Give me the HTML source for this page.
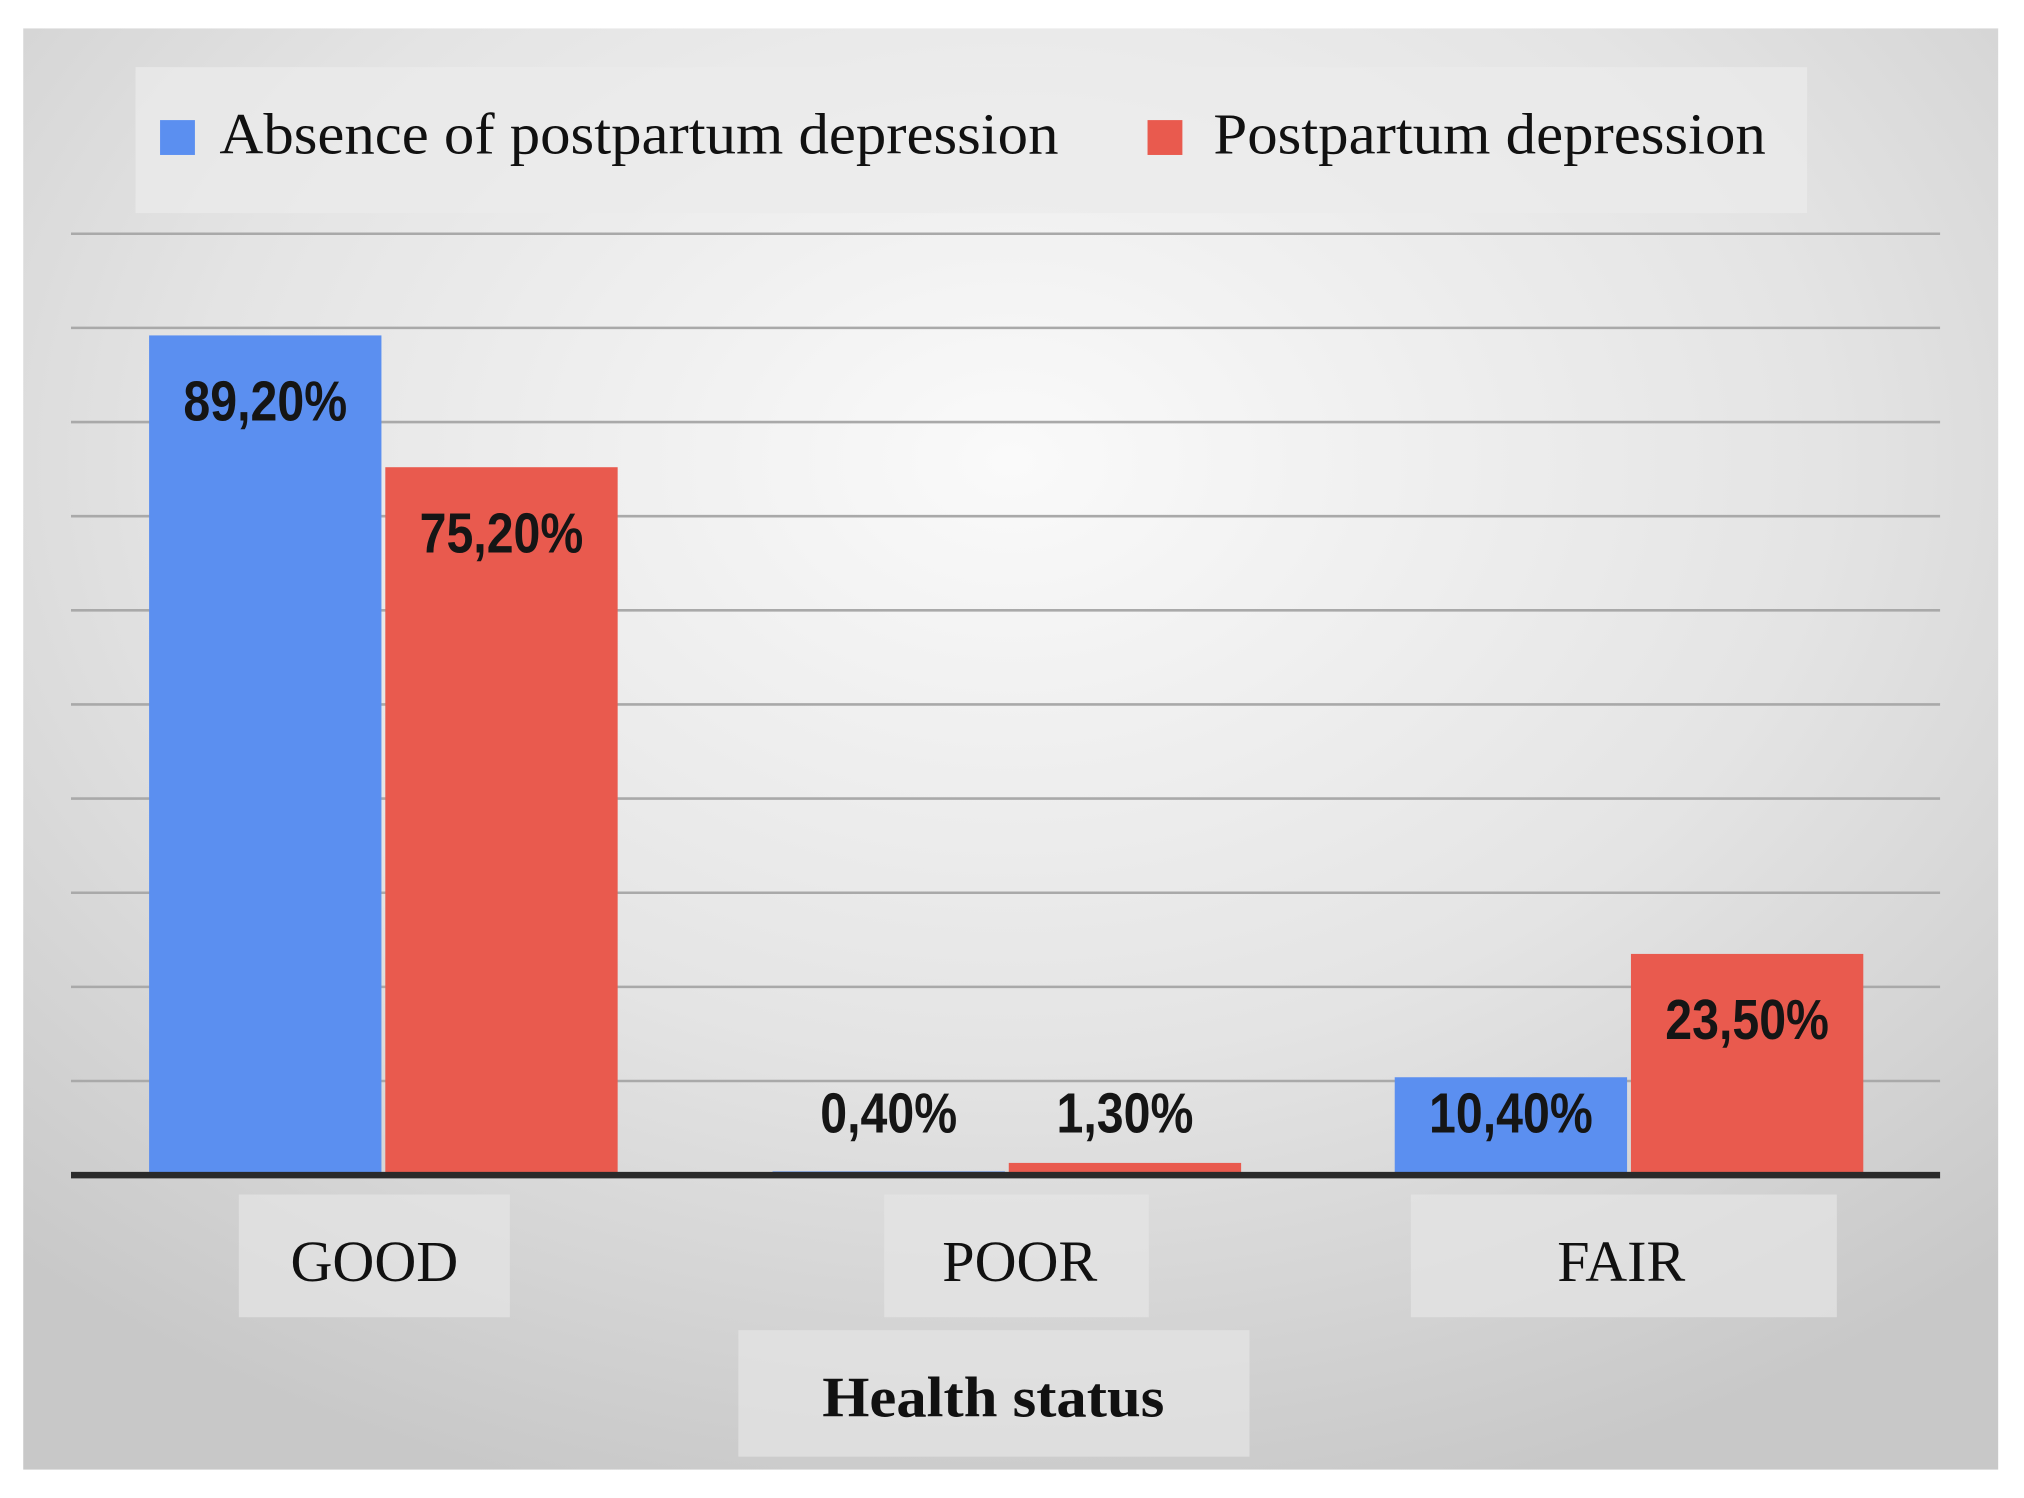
<!DOCTYPE html>
<html><head><meta charset="utf-8">
<style>
html,body{margin:0;padding:0;background:#fff;}
svg{display:block;}
</style></head>
<body>
<svg id="chart" width="2024" height="1498" viewBox="0 0 1568 1160" preserveAspectRatio="none" xmlns="http://www.w3.org/2000/svg">
<defs>
<radialGradient id="bg" cx="0.5" cy="0.3" r="0.75">
<stop offset="0" stop-color="#fafafa"/>
<stop offset="0.55" stop-color="#e4e4e4"/>
<stop offset="1" stop-color="#c8c8c8"/>
</radialGradient>
</defs>
<rect x="18" y="22" width="1530" height="1116" fill="url(#bg)"/>
<g>
<rect x="105" y="52" width="1295" height="113" fill="#ebebeb" opacity="0.75"/>
<rect x="124" y="93" width="27" height="27" fill="#5b8ff0"/>
<text x="170" y="119" font-family="Liberation Serif, serif" font-size="45" fill="#111" textLength="650" lengthAdjust="spacingAndGlyphs">Absence of postpartum depression</text>
<rect x="889" y="93" width="27" height="27" fill="#e95a4e"/>
<text x="940" y="119" font-family="Liberation Serif, serif" font-size="45" fill="#111" textLength="428" lengthAdjust="spacingAndGlyphs">Postpartum depression</text>
</g>
<g id="grid"></g>
<g id="bars"></g>
<line x1="55" y1="910" x2="1503" y2="910" stroke="#2a2a2a" stroke-width="5"/>
<g id="cats"></g>
<rect x="572" y="1030" width="396" height="98" fill="#e6e6e6" opacity="0.7"/>
<text x="637" y="1097" font-family="Liberation Serif, serif" font-weight="bold" font-size="44" fill="#111" textLength="265" lengthAdjust="spacingAndGlyphs">Health status</text>
</svg>
<script>
const categories = ["GOOD", "POOR", "FAIR"];
const absenceValues = [89.2, 0.4, 10.4];
const ppdValues = [75.2, 1.3, 23.5];
const absenceLabels = ["89,20%", "0,40%", "10,40%"];
const ppdLabels = ["75,20%", "1,30%", "23,50%"];
const gridTicks = [10, 20, 30, 40, 50, 60, 70, 80, 90, 100];

const NS = "http://www.w3.org/2000/svg";
const baseY = 910, pxPer = 7.29;
function yScale(v){ return baseY - v * pxPer; }
const catCenters = [295, 778, 1260];
function xScale(i){ return catCenters[i]; }
const barW = 180, gap = 3;
function mk(tag, attrs, parent){ const e = document.createElementNS(NS, tag); for (const k in attrs) e.setAttribute(k, attrs[k]); parent.appendChild(e); return e; }

const grid = document.getElementById("grid");
gridTicks.forEach(t => {
  const l = mk("line", {x1:55, x2:1503, y1:yScale(t), y2:yScale(t), stroke:"#a9a9a9", "stroke-width":2}, grid);
  
  
});

const bars = document.getElementById("bars");
function drawBar(i, v, lab, x, color, series){
  const top = yScale(v);
  const r = mk("rect", {x:x, y:top, width:barW, height:baseY - top, fill:color}, bars);
  
  
  const ty = Math.min(top + 51, 862) + 15;
  const t = mk("text", {x:x + barW/2, y:ty, "text-anchor":"middle", "font-family":"Liberation Sans Narrow, Liberation Sans, sans-serif", "font-weight":"bold", "font-size":"44", fill:"#151515", transform:"translate(" + (x + barW/2) + " 0) scale(0.85 1) translate(" + (-(x + barW/2)) + " 0)"}, bars);
  
  
  t.textContent = lab;
}
categories.forEach((c, i) => {
  const cx = xScale(i);
  drawBar(i, absenceValues[i], absenceLabels[i], cx - barW - gap/2 + 2, "#5b8ff0", "absence");
  drawBar(i, ppdValues[i], ppdLabels[i], cx + gap/2 + 2, "#e95a4e", "ppd");
});

const cats = document.getElementById("cats");
const boxX = [185, 685, 1093];
const boxW = [210, 205, 330];
const labX = [290, 790, 1256];
categories.forEach((c, i) => {
  const b = mk("rect", {x:boxX[i], y:925, width:boxW[i], height:95, fill:"#e6e6e6", opacity:"0.7"}, cats);
  
  
  const t = mk("text", {x:labX[i], y:992, "text-anchor":"middle", "font-family":"Liberation Serif, serif", "font-size":"45", fill:"#111"}, cats);
  
  
  t.textContent = c;
});
</script>
</body></html>
